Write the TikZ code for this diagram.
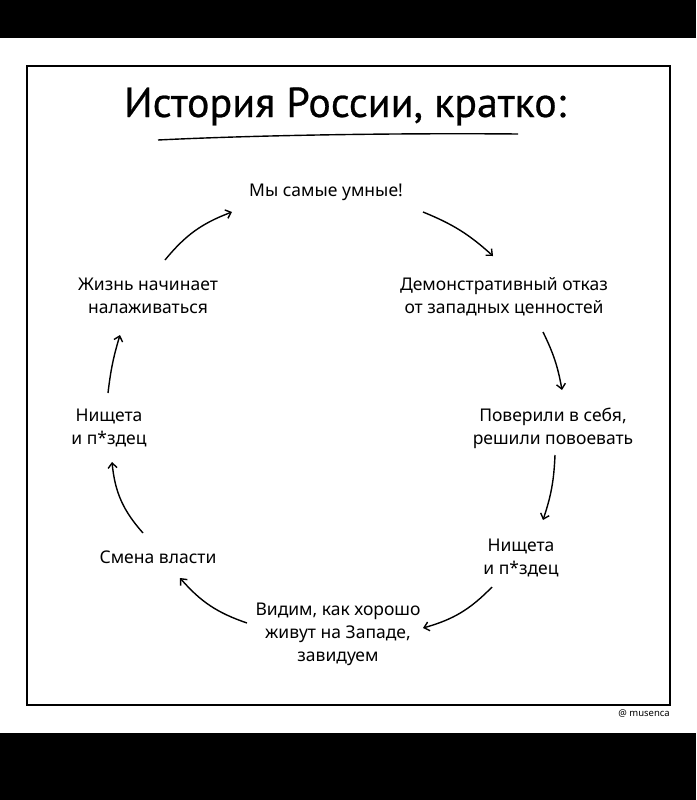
\documentclass[tikz,border=0pt]{standalone}
\usepackage{fontspec}
\setmainfont{Noto Sans}
\newfontfamily\titlefont[FakeBold=0.6]{PT Sans}
\usetikzlibrary{arrows.meta}
\begin{document}
\begin{tikzpicture}[x=1pt,y=-1pt,
  lbl/.style={align=center,font=\fontsize{17.5}{23}\selectfont,inner sep=0pt,text=black},
  arr/.style={line width=1.4pt,-{Straight Barb[length=5pt,width=9pt]}},
]
\fill[black] (0,0) rectangle (696,800);
\fill[white] (0,38) rectangle (696,733);
\useasboundingbox (0,0) rectangle (696,800);
\draw[line width=1.5pt] (27,66) rectangle (670,705);
\node[anchor=base,font=\titlefont\fontsize{42}{42}\selectfont,inner sep=0pt] (title) at (345,117) {История России, кратко:};
\draw[line width=1.4pt] (158,140) .. controls (260,135) and (400,133) .. (518,134);

\node[lbl] (T)  at (326,192) {Мы самые умные!};
\node[lbl] (LU) at (148,296) {Жизнь начинает\\налаживаться};
\node[lbl] (RU) at (504,297) {Демонстративный отказ\\от западных ценностей};
\node[lbl] (LM) at (109,428) {Нищета\\и п*здец};
\node[lbl] (RM) at (553,428) {Поверили в себя,\\решили повоевать};
\node[lbl] (SM) at (158,557) {Смена власти};
\node[lbl] (RL) at (521,558) {Нищета\\и п*здец};
\node[lbl] (B)  at (338,634) {Видим, как хорошо\\живут на Западе,\\завидуем};
\node[anchor=base east,inner sep=0pt,font=\fontsize{9.5}{9.5}\selectfont] (sig) at (670,716) {@ musenca};

\draw[arr] ([shift={(17,-36)}]LU.center) to[bend left=15] ([shift={(-94,20)}]T.center);
\draw[arr] ([shift={(97,20)}]T.center) to[bend left=10] ([shift={(-11,-41)}]RU.center);
\draw[arr] ([shift={(39,35)}]RU.center) to[bend left=8] ([shift={(9,-38)}]RM.center);
\draw[arr] ([shift={(2,27)}]RM.center) to[bend left=8] ([shift={(22,-38)}]RL.center);
\draw[arr] ([shift={(-29,29)}]RL.center) to[bend left=15] ([shift={(85,-6)}]B.center);
\draw[arr] ([shift={(-91,-11)}]B.center) to[bend left=15] ([shift={(22,21)}]SM.center);
\draw[arr] ([shift={(-15,-24)}]SM.center) to[bend left=18] ([shift={(3,34)}]LM.center);
\draw[arr] ([shift={(-1,-35)}]LM.center) to[bend left=5] ([shift={(-28,39)}]LU.center);
\end{tikzpicture}
\end{document}
